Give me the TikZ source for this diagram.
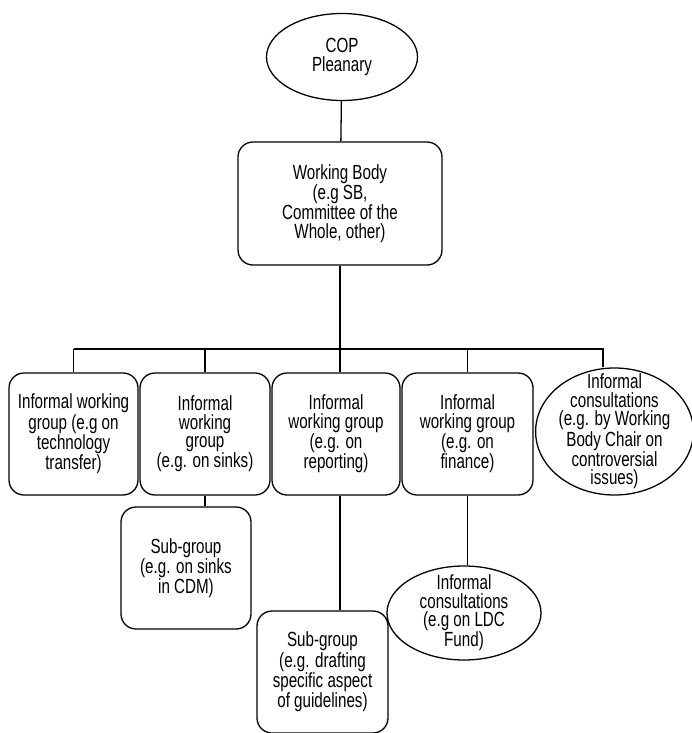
\documentclass[tikz,border=0pt]{standalone}
\usepackage{fontspec}
\setmainfont[FakeStretch=0.74]{Liberation Sans}
\usetikzlibrary{shapes.geometric,positioning}
\tikzset{
  groupbox/.style={draw,rounded corners=.45cm,align=center,inner sep=0pt,
    minimum width=3.9cm,minimum height=3.66cm},
  consult/.style={draw,ellipse,align=center,inner sep=0pt},
}

\begin{document}
\begin{tikzpicture}[x=.03cm,y=-.03cm,line width=1.1pt,
    font=\fontsize{17.5}{15.8}\selectfont]
    \useasboundingbox (0,0) rectangle (691,733);
    \node[consult,minimum width=4.53cm,minimum height=2.61cm] (cop) at (342,57) {COP\\Pleanary};
    \node[groupbox,minimum width=6.12cm,minimum height=3.69cm] (wb) at (340,203.5)
        {Working Body\\(e.g SB,\\Committee of the\\Whole, other)};
    \node[groupbox,minimum width=3.87cm] (g1) at (73.5,434) {Informal working\\group (e.g on\\technology\\transfer)};
    \node[groupbox] (g2) at (205,434) {Informal\\working\\group\\(e.g. on sinks)};
    \node[groupbox,minimum width=3.84cm] (g3) at (336,434) {Informal\\working group\\(e.g. on\\reporting)};
    \node[groupbox,minimum width=3.93cm] (g4) at (467.5,434) {Informal\\working group\\(e.g. on\\finance)};
    \node[consult,minimum width=4.65cm,minimum height=3.81cm,inner ysep=-.4cm] (ic) at (614.5,431.5)
        {Informal\\consultations\\(e.g. by Working\\Body Chair on\\controversial\\issues)};
    \node[groupbox] (s1) at (186,568) {Sub-group\\(e.g. on sinks\\in CDM)};
    \node[groupbox,minimum width=3.93cm] (s2) at (322.5,672)
        {Sub-group\\(e.g. drafting\\specific aspect\\of guidelines)};
    \node[consult,minimum width=4.62cm,minimum height=2.82cm,inner ysep=-.25cm] (ldc) at (464,613)
        {Informal\\consultations\\(e.g on LDC\\Fund)};
    \coordinate (barl) at (73.5,349);
    \coordinate (barr) at (603,349);
    \draw (cop) -- (wb);
    \draw (wb.south) -- (wb.south |- g3.north);
    \draw (barl) -- (barr) -- (barr |- ic.north);
    \foreach \grp in {g1,g2,g4}
        \draw (\grp.north |- barl) -- (\grp.north);
    \draw (g2.south) -- (g2.south |- s1.north);
    \draw (g3.south -| wb.south) -- (s2.north -| wb.south);
    \draw (g4.south) -- (g4.south |- ldc.north);
\end{tikzpicture}
\end{document}
